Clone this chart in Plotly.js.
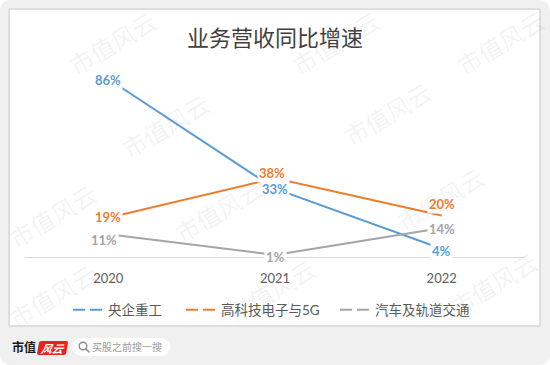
<!DOCTYPE html>
<html>
<head>
<meta charset="utf-8">
<script src="https://cdn.plot.ly/plotly-3.0.1.min.js"></script>
<style>
  html, body { margin:0; padding:0; background:#fff; }
  #bg { position:absolute; left:0; top:0; width:550px; height:365px; background:#f0f0f0; border-radius:10px; }
  #card { position:absolute; left:8px; top:8px; width:533px; height:319px; background:#fff; border:2px solid #dedede; box-sizing:border-box; border-radius:2px; }
  #brand { position:absolute; left:12px; top:339px; font-family:'Noto Sans CJK SC'; font-weight:bold; font-size:12px; line-height:16px; color:#1a1a1a; }
  #logo { position:absolute; left:38px; top:341px; width:29px; height:14px; background:#e8231b; border-radius:2px; color:#fff; font-family:'Noto Sans CJK SC'; font-style:italic; font-weight:bold; font-size:11px; line-height:14px; text-align:center; transform:skewX(-10deg); }
  #search { position:absolute; left:72px; top:338px; width:98px; height:18px; background:#fff; border-radius:9px; }
  #search svg { position:absolute; left:6px; top:3px; }
  #search span { position:absolute; left:20px; top:0; font-family:'Noto Sans CJK SC'; font-size:10px; line-height:18px; color:#9b9b9b; }
  #chart { position:absolute; left:0; top:0; width:550px; height:365px; }
</style>
</head>
<body>
<div id="bg"></div>
<div id="card"></div>
<div id="brand">市值</div>
<div id="logo">风云</div>
<div id="search"><svg width="12" height="12" viewBox="0 0 12 12"><circle cx="5" cy="5" r="3.8" fill="none" stroke="#8a8a8a" stroke-width="1.4"/><line x1="7.8" y1="7.8" x2="11" y2="11" stroke="#8a8a8a" stroke-width="1.5" stroke-linecap="round"/></svg><span>买股之前搜一搜</span></div>
<div id="chart"></div>
<script>
// ---- data ----
const years = ['2020', '2021', '2022'];
const seriesNames = ['央企重工', '高科技电子与5G', '汽车及轨道交通'];
const heavyIndustry = [86, 33, 4];
const hiTechElectronics5G = [19, 38, 20];
const autoRail = [11, 1, 14];
const chartTitle = '业务营收同比增速';
const watermarkText = '市值风云';

// ---- styles ----
const colors = ['#5b9bd5', '#ed7d31', '#a5a5a5'];
const labelShift = [
  [[0, -1], [0, 0], [0, -2]],
  [[0, 1], [-3, 5], [0, 12]],
  [[-4, -6], [0, -2], [0, -1]]
];
const legendSymbolX = [78, 191, 345];   // px where each legend symbol starts
const allSeries = [heavyIndustry, hiTechElectronics5G, autoRail];

// plot area geometry (px)
const PL = 25, PR = 25, PT = 50, PB = 108, W = 550, H = 365;
const PW = W - PL - PR, PH = H - PT - PB;
const legendY = 310;

const traces = [];
allSeries.forEach((vals, i) => {
  traces.push({
    type: 'scatter', mode: 'lines', x: years, y: vals,
    line: { color: colors[i], width: 2 }, showlegend: false, hoverinfo: 'skip'
  });
});
const legendIds = ['legend', 'legend2', 'legend3'];
seriesNames.forEach((name, i) => {
  traces.push({
    type: 'scatter', mode: 'lines', x: [null], y: [null], name: name,
    legend: legendIds[i],
    line: { color: colors[i], width: 2, dash: '12px,5px' }, showlegend: true
  });
});

const annotations = [];
allSeries.forEach((vals, i) => {
  vals.forEach((v, j) => {
    annotations.push({
      x: j, y: v, xref: 'x', yref: 'y', text: v + '%', showarrow: false,
      xanchor: 'center', yanchor: 'middle',
      xshift: labelShift[i][j][0], yshift: labelShift[i][j][1],
      font: { family: 'Lato, "Noto Sans"', size: 13, color: colors[i], weight: 'bold' },
      bgcolor: '#ffffff', borderpad: 1
    });
  });
});

// watermark tiling (pixel centres)
const wmCenters = [[112,42],[165,125],[218,210],[271,290],[335,42],[387,113],[440,198],[493,283],[52,215],[52,295],[500,42]];
wmCenters.forEach(([px, py]) => {
  annotations.push({
    xref: 'paper', yref: 'paper', x: (px - PL) / PW, y: (H - PB - py) / PH,
    xanchor: 'center', yanchor: 'middle', showarrow: false, text: watermarkText,
    textangle: -31,
    font: { family: '"Noto Sans CJK SC"', size: 24, color: 'rgba(120,120,120,0.09)' }
  });
});

const legendBase = {
  orientation: 'h', xanchor: 'left', y: (H - PB - legendY) / PH, yanchor: 'middle',
  font: { family: 'Lato, "Noto Sans CJK SC"', size: 13.5, color: '#595959' },
  bgcolor: 'rgba(0,0,0,0)', itemwidth: 30, borderwidth: 0
};

const layout = {
  width: W, height: H,
  margin: { l: PL, r: PR, t: PT, b: PB, pad: 0 },
  paper_bgcolor: 'rgba(0,0,0,0)', plot_bgcolor: 'rgba(0,0,0,0)',
  title: {
    text: chartTitle, x: 0.5, xref: 'container', xanchor: 'center',
    y: 1 - 38 / H, yref: 'container', yanchor: 'middle',
    font: { family: '"Noto Sans CJK SC"', size: 22, color: '#404040' }
  },
  xaxis: {
    type: 'category', range: [-0.5, 2.5], showgrid: false, zeroline: false,
    showline: true, linecolor: '#d9d9d9', linewidth: 1, ticks: '',
    ticklabelstandoff: 9,
    tickfont: { family: 'Lato, "Noto Sans"', size: 13, color: '#606060' },
    fixedrange: true
  },
  yaxis: { range: [0, 100], visible: false, showgrid: false, zeroline: false, fixedrange: true },
  showlegend: true,
  legend: Object.assign({}, legendBase, { x: (legendSymbolX[0] - 10 - PL) / PW }),
  legend2: Object.assign({}, legendBase, { x: (legendSymbolX[1] - 10 - PL) / PW }),
  legend3: Object.assign({}, legendBase, { x: (legendSymbolX[2] - 10 - PL) / PW }),
  annotations: annotations
};

Plotly.newPlot('chart', traces, layout, { displayModeBar: false, staticPlot: true });
</script>
</body>
</html>
